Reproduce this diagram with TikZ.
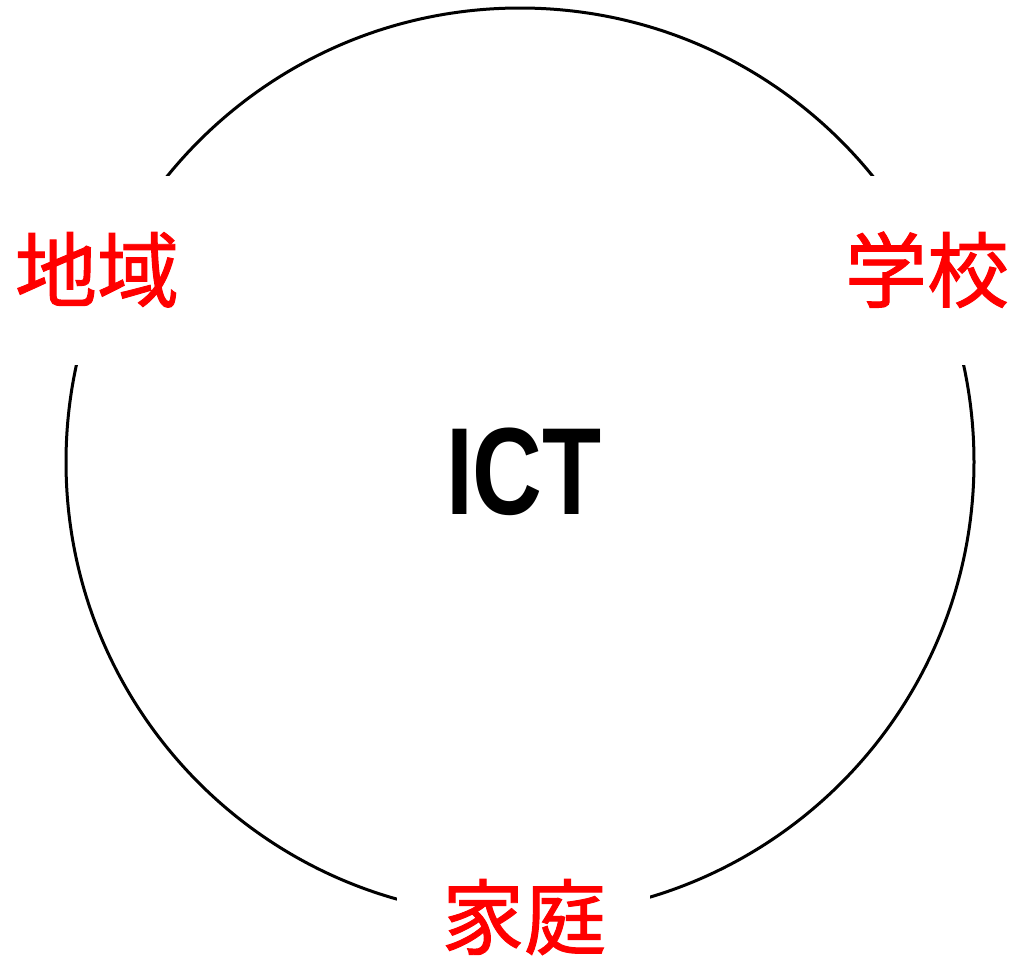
\documentclass[tikz,border=0pt]{standalone}
\usepackage{fontspec}
\newfontfamily\cjk[FakeBold=1.2]{Noto Sans CJK JP}
\newfontfamily\latinb{Liberation Sans}
\begin{document}
\begin{tikzpicture}[x=1pt,y=-1pt,
  lbl/.style={text=red,font=\cjk\fontsize{82}{82}\selectfont,inner sep=0pt,anchor=base},
  mask/.style={fill=white,draw=none}]
\useasboundingbox (0,0) rectangle (1015,959);
\draw[line width=3pt] (520,462) circle[radius=454];
\fill[mask] (0,176) rectangle (200,365);
\fill[mask] (830,176) rectangle (1015,365);
\fill[mask] (397,860) rectangle (650,959);
\node[lbl] (chiiki) at (97,301) {地域};
\node[lbl] (gakko) at (927,301) {学校};
\node[lbl] (katei) at (524,948) {家庭};
\node[inner sep=0pt,anchor=base,font=\latinb\bfseries\fontsize{124}{124}\selectfont] (ict) at (524,514) {\scalebox{0.78}[1]{ICT}};
\end{tikzpicture}
\end{document}
